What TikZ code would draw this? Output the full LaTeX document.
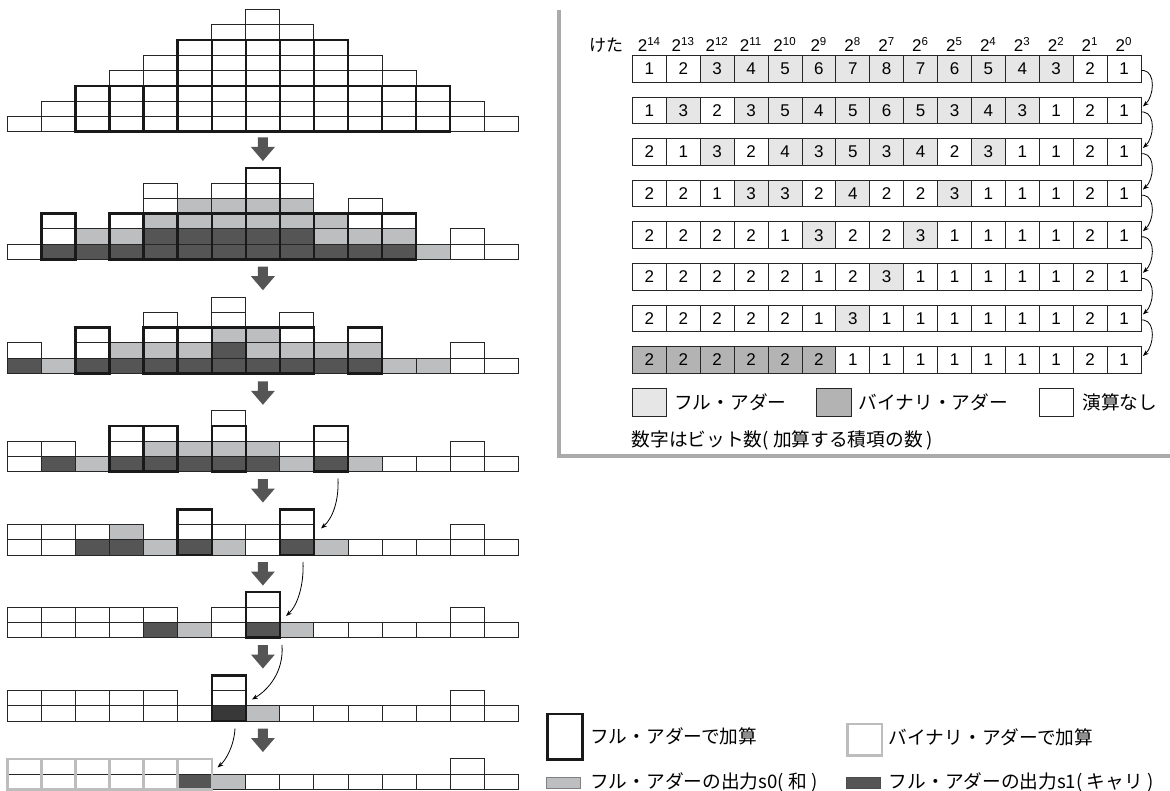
\documentclass[tikz,border=0pt]{standalone}
\usepackage{fontspec}
\setmainfont{Liberation Sans}
\newfontfamily\jp{Noto Sans CJK JP}
\usetikzlibrary{arrows.meta,calc}
\definecolor{cellD}{HTML}{555555}
\definecolor{cellL}{HTML}{BCBEC0}
\definecolor{cellW}{HTML}{FFFFFF}
\definecolor{cellE}{HTML}{383838}
\definecolor{fac}{HTML}{E6E6E6}
\definecolor{binc}{HTML}{B3B3B3}
\definecolor{framec}{HTML}{AAAAAA}
\definecolor{bingray}{HTML}{BDBDBD}
\definecolor{arrowc}{HTML}{555555}
\tikzset{
 cellline/.style={draw=black!85, line width=0.9pt},
 fabox/.style={draw=black!90, line width=2.5pt},
 binbox/.style={draw=bingray, line width=2.5pt},
 tcell/.style={draw=black!85, line width=0.9pt, minimum width=33.9pt, minimum height=26.7pt, inner sep=0pt, anchor=north west, font=\fontsize{17}{17}\selectfont},
 jptext/.style={font=\jp\fontsize{18.7}{19}\selectfont, inner sep=0pt},
 carryarrow/.style={draw=black, line width=0.8pt, -{Stealth[length=6pt,width=4.5pt]}},
 downarrow/.style={fill=arrowc},
 lgbox/.style={draw=black!85, line width=0.9pt, minimum width=34.3pt, minimum height=27.4pt, inner sep=0pt, anchor=north west},
}
\def\xo{7.4}\def\cw{34.06}\def\rh{15.25}
\newcommand{\stagecells}[2]{%
 \foreach \colspec [count=\ci from 0] in {#2} {
  \foreach \tc [count=\ri from 0] in \colspec {
   \edef\fc{cell\tc}
   \filldraw[cellline, fill=\fc] ({\xo+\ci*\cw},{#1-\ri*\rh}) rectangle ({\xo+(\ci+1)*\cw},{#1-(\ri+1)*\rh});
  }
 }}
\newcommand{\faat}[3]{\draw[fabox] ({\xo+#2*\cw},{#1-#3*\rh}) rectangle ({\xo+(#2+1)*\cw},{#1-(#3+3)*\rh});}
\newcommand{\binat}[2]{\draw[binbox] ({\xo+#2*\cw},{#1}) rectangle ({\xo+(#2+1)*\cw},{#1-2*\rh});}
\newcommand{\downarr}[1]{\fill[downarrow] ({262.9-5},{#1}) -- ({262.9+5},{#1}) -- ({262.9+5},{#1+9.5}) -- ({262.9+12},{#1+9.5}) -- (262.9,{#1+23.5}) -- ({262.9-12},{#1+9.5}) -- ({262.9-5},{#1+9.5}) -- cycle;}
\begin{document}
\begin{tikzpicture}[x=1pt,y=-1pt]
\useasboundingbox (0,0) rectangle (1170,791);
% ---------- left: reduction stages ----------
\stagecells{131.7}{{W},{W,W},{W,W,W},{W,W,W,W},{W,W,W,W,W},{W,W,W,W,W,W},{W,W,W,W,W,W,W},{W,W,W,W,W,W,W,W},{W,W,W,W,W,W,W},{W,W,W,W,W,W},{W,W,W,W,W},{W,W,W,W},{W,W,W},{W,W},{W}}
\foreach \k in {2,...,12} {\faat{131.7}{\k}{0}}
\foreach \k in {5,...,9} {\faat{131.7}{\k}{3}}
\stagecells{259.3}{{W},{D,W,W},{D,L},{D,L,W},{D,D,L,W,W},{D,D,L,L},{D,D,L,L,W},{D,D,L,L,W,W},{D,D,L,L,W},{D,L,L},{D,L,W,W},{D,L,W},{L},{W,W},{W}}
\foreach \k in {1,3,4,5,6,7,8,9,10,11} {\faat{259.3}{\k}{0}}
\faat{259.3}{7}{3}
\stagecells{373.3}{{D,W},{L},{D,W,W},{D,L},{D,L,W,W},{D,L,W},{D,D,L,W,W},{D,L,L},{D,L,W,W},{D,L},{D,L,W},{L},{L},{W,W},{W}}
\foreach \k in {2,4,5,6,7,8,10} {\faat{373.3}{\k}{0}}
\stagecells{471.7}{{W,W},{D,W},{L},{D,W,W},{D,L,W},{D,L},{D,L,W,W},{D,L},{L,W},{D,W,W},{L},{W},{W},{W,W},{W}}
\foreach \k in {3,4,6,9} {\faat{471.7}{\k}{0}}
\stagecells{555}{{W,W},{W,W},{D,W},{D,L},{L},{D,W,W},{L,W},{W,W},{D,W,W},{L},{W},{W},{W},{W,W},{W}}
\foreach \k in {5,8} {\faat{555}{\k}{0}}
\stagecells{637.7}{{W,W},{W,W},{W,W},{W,W},{D,W},{L},{W,W},{D,W,W},{L},{W},{W},{W},{W},{W,W},{W}}
\faat{637.7}{7}{0}
\stagecells{721}{{W,W},{W,W},{W,W},{W,W},{W,W},{W},{E,W,W},{L},{W},{W},{W},{W},{W},{W,W},{W}}
\faat{721}{6}{0}
\stagecells{789.3}{{W,W},{W,W},{W,W},{W,W},{W,W},{D,W},{L},{W},{W},{W},{W},{W},{W},{W,W},{W}}
\foreach \k in {0,...,5} {\binat{789.3}{\k}}
% down arrows
\downarr{137.5}
\downarr{266.7}
\downarr{381.3}
\downarr{479}
\downarr{562}
\downarr{645}
\downarr{728.5}
% carry arrows
\coordinate (c1s) at (338,478.5); \coordinate (c1e) at (321,528.5);
\coordinate (c2s) at (303,562);   \coordinate (c2e) at (286,616);
\coordinate (c3s) at (282,645);   \coordinate (c3e) at (252,699.5);
\coordinate (c4s) at (235,728.5); \coordinate (c4e) at (217.5,767.5);
\draw[carryarrow] (c1s) .. controls (339,500) and (333,518) .. (c1e);
\draw[carryarrow] (c2s) .. controls (304,584) and (298,605) .. (c2e);
\draw[carryarrow] (c3s) .. controls (284,672) and (268,690) .. (c3e);
\draw[carryarrow] (c4s) .. controls (234,746) and (226,760) .. (c4e);
% ---------- right: table ----------
\draw[framec, line width=3.5pt] (559,10) -- (559,456) -- (1172,456);
\node[anchor=west, font=\jp\fontsize{17}{17}\selectfont, inner sep=0pt] (keta) at (589,45.5) {けた};
\foreach \c in {0,...,14} {
  \pgfmathtruncatemacro\ex{14-\c}
  \node[anchor=base, inner sep=0pt, font=\fontsize{17}{17}\selectfont] (h\c) at ({632+(\c+0.5)*33.9},51.7) {2\raisebox{6.5pt}{\fontsize{11.5}{12}\selectfont\ex}};
}
\foreach \row [count=\i] in {{1,2,3,4,5,6,7,8,7,6,5,4,3,2,1},{1,3,2,3,5,4,5,6,5,3,4,3,1,2,1},{2,1,3,2,4,3,5,3,4,2,3,1,1,2,1},{2,2,1,3,3,2,4,2,2,3,1,1,1,2,1},{2,2,2,2,1,3,2,2,3,1,1,1,1,2,1},{2,2,2,2,2,1,2,3,1,1,1,1,1,2,1},{2,2,2,2,2,1,3,1,1,1,1,1,1,2,1},{2,2,2,2,2,2,1,1,1,1,1,1,1,2,1}} {
  \foreach \v [count=\c from 0] in \row {
    \ifnum\i=8 \ifnum\c<6 \def\fc{binc}\else\def\fc{white}\fi\else\ifnum\v>2 \def\fc{fac}\else\def\fc{white}\fi\fi
    \node[tcell, fill=\fc] (t\i-\c) at ({632+\c*33.9},{55+(\i-1)*41.6}) {\v};
  }
}
\foreach \i in {1,...,7} {
  \pgfmathtruncatemacro\j{\i+1}
  \draw[carryarrow] ($(t\i-14.east)+(0,1.7)$) -- ++(2.5,0) .. controls +(12,2) and +(11,-10) .. ($(t\j-14.east)+(1.5,-4)$);
}
\node[lgbox, fill=fac] (lgfa) at (631.5,388.3) {};
\node[jptext, anchor=west] (lgfat) at (674,402) {フル・アダー};
\node[lgbox, fill=binc] (lgbin) at (816.3,388.3) {};
\node[jptext, anchor=west] (lgbint) at (858.4,402) {バイナリ・アダー};
\node[lgbox, fill=white] (lgnone) at (1039,388.3) {};
\node[jptext, anchor=west] (lgnonet) at (1082.3,402) {演算なし};
\node[jptext, anchor=west] (note) at (631.5,440) {数字はビット数( 加算する積項の数 )};
% ---------- bottom legend ----------
\node[fabox, minimum width=35pt, minimum height=45.6pt, inner sep=0pt, anchor=north west] (blfa) at (546,712.7) {};
\node[jptext, anchor=west] (blfat) at (590,736.5) {フル・アダーで加算};
\node[binbox, minimum width=34.5pt, minimum height=31.3pt, inner sep=0pt, anchor=north west] (blbin) at (846,722.7) {};
\node[jptext, anchor=west] (blbint) at (888.7,737) {バイナリ・アダーで加算};
\node[draw=black!50, line width=0.6pt, fill=cellL, minimum width=34pt, minimum height=11pt, inner sep=0pt, anchor=north west] (bls0) at (546,776.5) {};
\node[jptext, anchor=west] (bls0t) at (590,782) {フル・アダーの出力s0( 和 )};
\node[draw=black!70, line width=0.6pt, fill=cellD, minimum width=34pt, minimum height=11pt, inner sep=0pt, anchor=north west] (bls1) at (846,776.5) {};
\node[jptext, anchor=west] (bls1t) at (888.7,782) {フル・アダーの出力s1( キャリ )};
\end{tikzpicture}
\end{document}
